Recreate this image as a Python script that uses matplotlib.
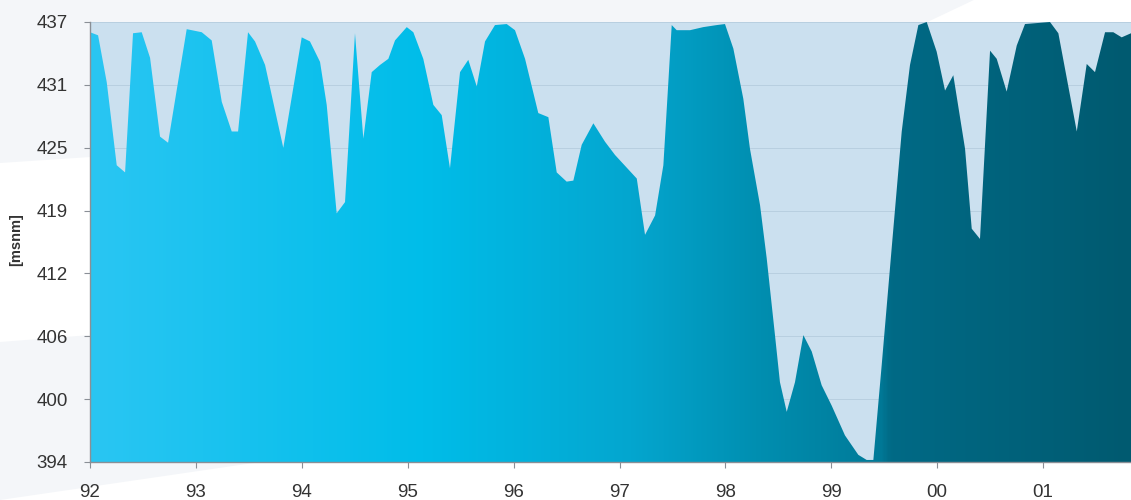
import numpy as np
import matplotlib.pyplot as plt
from matplotlib.colors import LinearSegmentedColormap
from matplotlib.patches import Polygon

# water level readings, decimal year -> level [msnm]
years = [1992.000, 1992.076, 1992.158, 1992.252, 1992.331, 1992.406, 1992.488, 1992.567,
         1992.661, 1992.737, 1992.913, 1993.055, 1993.149, 1993.244, 1993.338, 1993.398,
         1993.492, 1993.558, 1993.653, 1993.825, 1993.999, 1994.077, 1994.172, 1994.235,
         1994.329, 1994.408, 1994.502, 1994.581, 1994.660, 1994.738, 1994.817, 1994.880,
         1994.991, 1995.053, 1995.147, 1995.242, 1995.321, 1995.399, 1995.494, 1995.572,
         1995.652, 1995.730, 1995.824, 1995.935, 1996.013, 1996.108, 1996.233, 1996.328,
         1996.407, 1996.501, 1996.564, 1996.643, 1996.753, 1996.863, 1996.958, 1997.163,
         1997.241, 1997.336, 1997.414, 1997.461, 1997.493, 1997.540, 1997.666, 1997.791,
         1997.918, 1997.996, 1998.075, 1998.169, 1998.232, 1998.327, 1998.390, 1998.468,
         1998.515, 1998.579, 1998.657, 1998.736, 1998.815, 1998.909, 1999.004, 1999.129,
         1999.255, 1999.334, 1999.397, 1999.476, 1999.570, 1999.665, 1999.743, 1999.822,
         1999.901, 1999.995, 2000.074, 2000.152, 2000.263, 2000.326, 2000.404, 2000.499,
         2000.562, 2000.656, 2000.751, 2000.829, 2001.065, 2001.144, 2001.318, 2001.412,
         2001.490, 2001.585, 2001.663, 2001.742, 2001.830]
level = [436.0, 435.7, 431.1, 423.0, 422.3, 435.9, 436.0, 433.5,
         425.8, 425.2, 436.3, 436.0, 435.2, 429.2, 426.3, 426.3,
         436.0, 435.1, 432.8, 424.7, 435.5, 435.1, 433.1, 428.9,
         418.3, 419.4, 435.9, 425.6, 432.1, 432.8, 433.4, 435.2,
         436.5, 436.0, 433.4, 428.9, 427.9, 422.7, 432.1, 433.3,
         430.7, 435.1, 436.7, 436.8, 436.2, 433.4, 428.1, 427.7,
         422.3, 421.4, 421.5, 425.0, 427.1, 425.3, 424.0, 421.7,
         416.2, 418.1, 423.0, 431.1, 436.7, 436.2, 436.2, 436.5,
         436.7, 436.8, 434.4, 429.5, 424.6, 419.1, 413.9, 406.4,
         401.8, 398.9, 401.8, 406.4, 404.8, 401.5, 399.5, 396.6,
         394.7, 394.2, 394.2, 403.5, 414.9, 426.3, 432.8, 436.7,
         437.0, 434.1, 430.3, 431.8, 424.6, 416.8, 415.8, 434.2,
         433.4, 430.2, 434.7, 436.8, 437.0, 435.9, 426.3, 432.9,
         432.1, 436.0, 436.0, 435.5, 435.9]

x_ticks = [1992, 1993, 1994, 1995, 1996, 1997, 1998, 1999, 2000, 2001]
x_labels = ['92', '93', '94', '95', '96', '97', '98', '99', '00', '01']
y_min, y_max = 394, 437

plt.rcParams['font.family'] = ['Liberation Sans', 'DejaVu Sans']

fig = plt.figure(figsize=(11.31, 5.0), dpi=100)
fig.patch.set_facecolor('white')

# light grey slide background shapes (behind the axes)
fig.patches.append(Polygon([[0, 1], [0.861, 1], [0.82, 0.956], [0.08, 0.686], [0, 0.674]],
                           closed=True, transform=fig.transFigure, facecolor='#f4f6f9',
                           edgecolor='none', zorder=-10))
fig.patches.append(Polygon([[0, 0.316], [0.08, 0.33], [0.08, 0.076], [0.23, 0.076], [0, 0.0]],
                           closed=True, transform=fig.transFigure, facecolor='#f4f6f9',
                           edgecolor='none', zorder=-10))

ax = fig.add_axes([0.0796, 0.076, 0.9204, 0.88])
ax.set_facecolor('#cbe0ef')
x0, x1 = 1992.0, 2001.83
ax.set_xlim(x0, x1)
ax.set_ylim(y_min, y_max)

yt = np.linspace(y_min, y_max, 8)
ax.set_yticks(yt)
ax.set_yticklabels([str(int(round(v))) for v in yt])
ax.set_xticks(x_ticks)
ax.set_xticklabels(x_labels)
ax.grid(axis='y', color='#b8cfe0', linewidth=0.7)
ax.set_axisbelow(True)

# gradient area
cmap = LinearSegmentedColormap.from_list('lake', [
    (0.0, '#2ac6f3'), (0.32, '#00bde9'), (0.52, '#04a6cf'),
    (0.64, '#008fb1'), (0.76, '#007a98'), (0.77, '#006a86'), (1.0, '#005a70')])
poly = ax.fill_between(years, y_min, level, facecolor='none', edgecolor='none')
grad = np.linspace(0, 1, 512).reshape(1, -1)
im = ax.imshow(grad, extent=[x0, x1, y_min, y_max], aspect='auto', cmap=cmap,
               origin='lower', zorder=2, interpolation='bicubic')
im.set_clip_path(poly.get_paths()[0], transform=ax.transData)

for s in ['top', 'right']:
    ax.spines[s].set_visible(False)
for s in ['left', 'bottom']:
    ax.spines[s].set_color('#8a8f96')
    ax.spines[s].set_linewidth(1.0)
    ax.spines[s].set_zorder(3)
ax.tick_params(axis='both', colors='#8a8f96', length=4, labelcolor='#333333', labelsize=13.5)
ax.tick_params(axis='y', pad=12)
ax.tick_params(axis='x', pad=12)

fig.text(0.014, 0.52, '[msnm]', rotation=90, va='center', ha='center',
         fontsize=10.5, fontweight='bold', color='#333333')

fig.savefig('out.png', dpi=100)
